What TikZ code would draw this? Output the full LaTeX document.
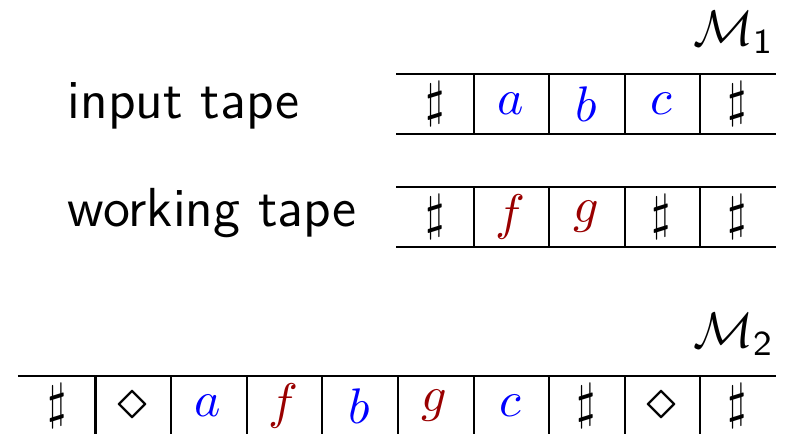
\documentclass[tikz,border=0pt]{standalone}
\usepackage{amsmath,amssymb}
\usetikzlibrary{positioning}
\definecolor{symred}{rgb}{0.6,0,0}
\newcommand{\Mach}[1]{\mathcal{M}_{\textsf{#1}}}
\newcommand{\gap}{{\large$\diamond$}}
\tikzset{
  cell/.style={minimum width=15.12pt, minimum height=11.6pt, inner sep=0pt},
  tapeline/.style={line width=0.42pt},
  tapelabel/.style={anchor=base west, inner sep=0pt, font=\sffamily\fontsize{11}{13}\selectfont},
  machlabel/.style={anchor=base east, inner sep=0pt, font=\fontsize{10}{12}\selectfont},
}

\begin{document}
\begin{tikzpicture}[x=0.2pt, y=-0.2pt, font=\sffamily]
  \useasboundingbox (0,0) rectangle (787,434);
  % machine M1: input and working tape
  \node[machlabel] (m1) at (776,46) {$\Mach{1}$};
  \node[tapelabel] (inlabel) at (67,119) {input tape};
  \node[tapelabel] (worklabel) at (67,227) {working tape};
  \foreach \s [count=\i] in {$\sharp$, \textcolor{blue}{$a$}, \textcolor{blue}{$b$}, \textcolor{blue}{$c$}, $\sharp$}
    \node[cell] (in-\i) at ({397+75.6*(\i-0.5)},104) {\s};
  \foreach \s [count=\i] in {$\sharp$, \textcolor{symred}{$f$}, \textcolor{symred}{$g$}, $\sharp$, $\sharp$}
    \node[cell] (wk-\i) at ({397+75.6*(\i-0.5)},217) {\s};
  \draw[tapeline] (in-1.north west) -- (in-5.north east) (in-1.south west) -- (in-5.south east);
  \draw[tapeline] (wk-1.north west) -- (wk-5.north east) (wk-1.south west) -- (wk-5.south east);
  \foreach \i in {1,...,4} {
    \draw[tapeline] (in-\i.north east) -- (in-\i.south east);
    \draw[tapeline] (wk-\i.north east) -- (wk-\i.south east);
  }
  % machine M2: one tape
  \node[machlabel] (m2) at (776,348) {$\Mach{2}$};
  \foreach \s [count=\i] in {$\sharp$, \gap, \textcolor{blue}{$a$}, \textcolor{symred}{$f$}, \textcolor{blue}{$b$}, \textcolor{symred}{$g$}, \textcolor{blue}{$c$}, $\sharp$, \gap, $\sharp$}
    \node[cell] (tp-\i) at ({19+75.6*(\i-0.5)},406) {\s};
  \draw[tapeline] (tp-1.north west) -- (tp-10.north east);
  \draw[line width=0.6pt] (tp-1.north east) -- (tp-1.south east);
  \foreach \i in {2,...,9}
    \draw[tapeline] (tp-\i.north east) -- (tp-\i.south east);
\end{tikzpicture}
\end{document}
